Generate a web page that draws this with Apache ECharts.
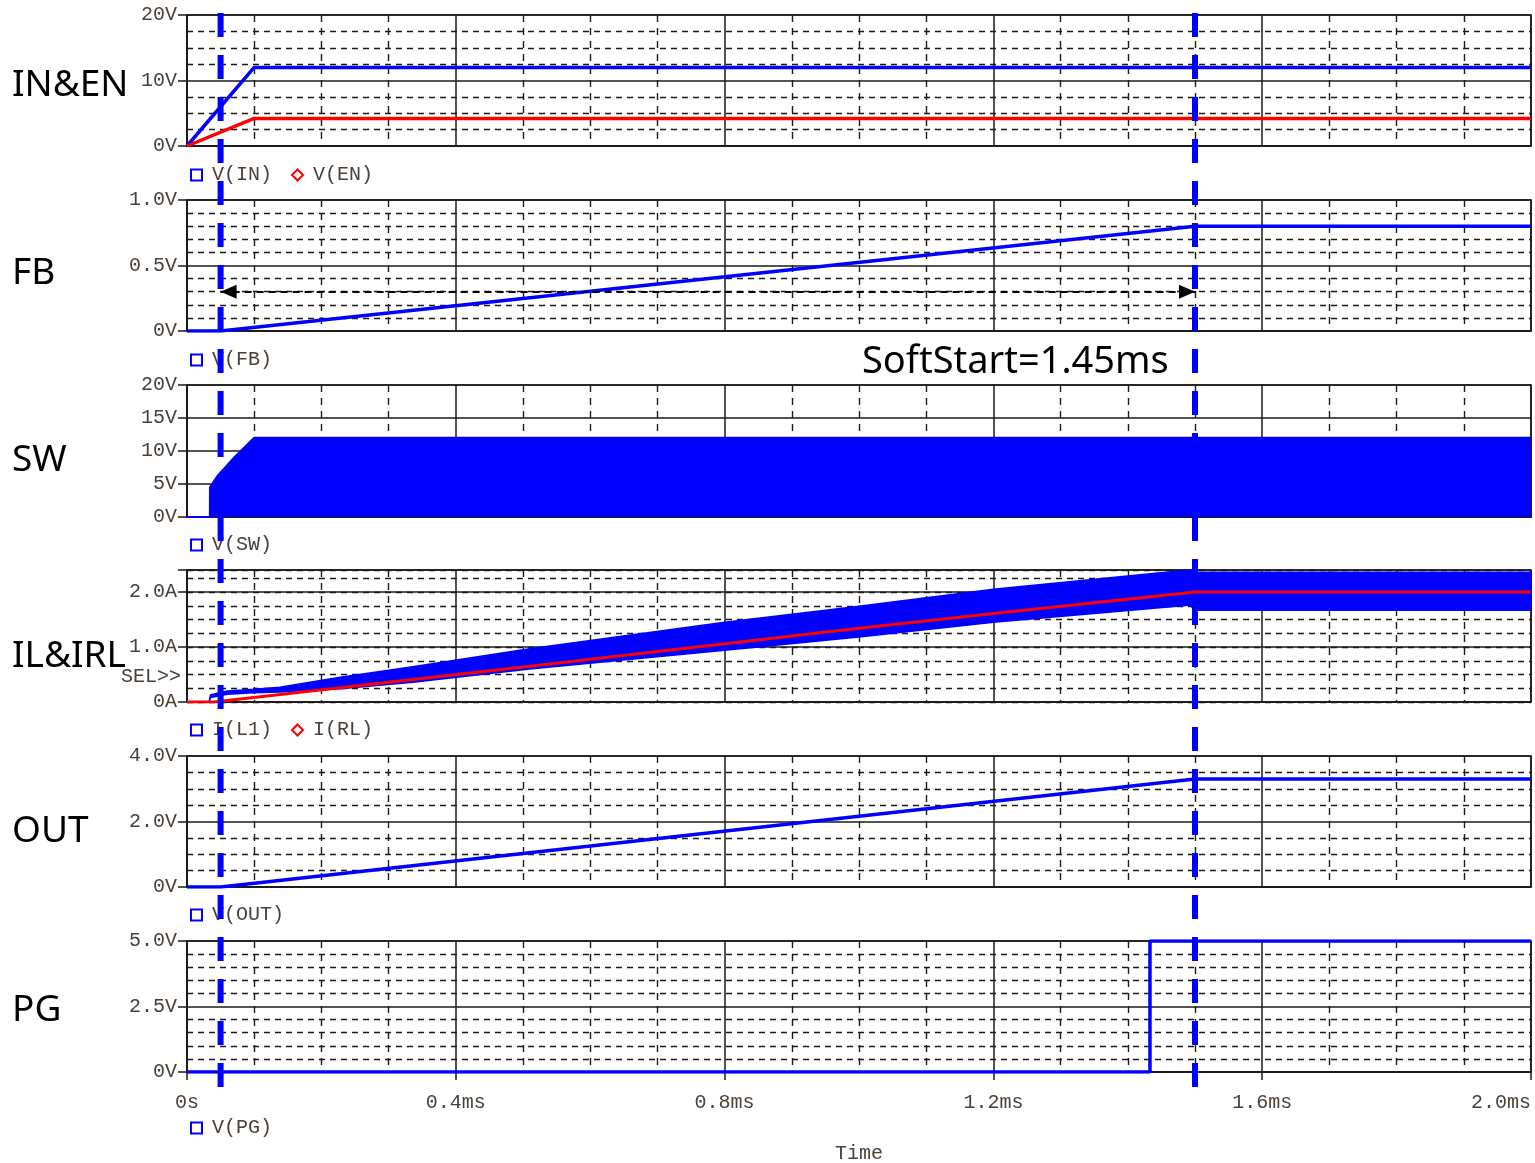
<!DOCTYPE html>
<html><head><meta charset="utf-8">
<script src="https://cdn.jsdelivr.net/npm/echarts@6/dist/echarts.min.js"></script>
<style>html,body{margin:0;padding:0;background:#fff}#c{width:1535px;height:1163px}</style>
</head><body><div id="c"></div>
<script>
// ---- data (time in ms) ----
const inTime = [0, 0.1, 2.0];
const vIn = [0, 12, 12];
const enTime = [0, 0.1, 2.0];
const vEn = [0, 4.2, 4.2];
const fbTime = [0, 0.05, 1.5, 2.0];
const vFb = [0, 0, 0.8, 0.8];
const swTime = [0, 0.034, 0.0342, 0.046, 0.071, 0.1, 2.0];
const vSwEnvelope = [0, 0, 4.5, 6.3, 9.1, 12, 12];
const ilTime = [0, 0.033, 0.035, 0.06, 0.1, 0.138, 0.228, 0.336, 0.51, 0.8, 1.0, 1.2, 1.49, 1.505, 2.0];
const iL1Upper = [0, 0, 0.13, 0.2, 0.23, 0.27, 0.45, 0.64, 0.97, 1.45, 1.74, 2.05, 2.45, 2.36, 2.36];
const iL1Lower = [0, 0, 0.08, 0.14, 0.17, 0.18, 0.24, 0.36, 0.6, 0.94, 1.18, 1.45, 1.76, 1.67, 1.67];
const rlTime = [0, 0.04, 0.51, 0.8, 1.0, 1.2, 1.5, 2.0];
const iRl = [0, 0, 0.65, 1.06, 1.34, 1.61, 2.0, 2.0];
const outTime = [0, 0.05, 1.5, 2.0];
const vOut = [0, 0, 3.3, 3.3];
const pgTime = [0, 1.433, 1.433, 2.0];
const vPg = [0, 0, 5, 5];
const markerTimes = [0.05, 1.5];
const softStartFrom = 0.05, softStartTo = 1.5, softStartLevel = 0.3;
const softStartText = 'SoftStart=1.45ms';
const panelNames = ['IN&EN', 'FB', 'SW', 'IL&IRL', 'OUT', 'PG'];
const xTickLabels = ['0s', '0.4ms', '0.8ms', '1.2ms', '1.6ms', '2.0ms'];
const inTicks = ['0V', '10V', '20V'];
const fbTicks = ['0V', '0.5V', '1.0V'];
const swTicks = ['0V', '5V', '10V', '15V', '20V'];
const ilTicks = ['0A', '1.0A', '2.0A'];
const outTicks = ['0V', '2.0V', '4.0V'];
const pgTicks = ['0V', '2.5V', '5.0V'];

// ---- layout / style ----
const BLUE = '#0000ff', RED = '#ff0000', INK = '#1a1a1a', TXT = '#4a4038';
const MONO = '"Liberation Mono", monospace';
const SANS = '"Noto Sans", sans-serif';
const panels = [
  {top: 15,  h: 131, max: 20,  interval: 10,  minor: 4, ticks: inTicks,  legendTop: 165,  legend: ['V(IN)', 'V(EN)'], labelY: 85},
  {top: 200, h: 131, max: 1,   interval: 0.5, minor: 5, ticks: fbTicks,  legendTop: 350,  legend: ['V(FB)'], labelY: 273},
  {top: 385, h: 132, max: 20,  interval: 5,   minor: 0, ticks: swTicks,  legendTop: 535,  legend: ['V(SW)'], labelY: 460},
  {top: 570, h: 132, max: 2.4, interval: 1,   minor: 0, ticks: ilTicks,  legendTop: 720,  legend: ['I(L1)', 'I(RL)'], labelY: 656},
  {top: 756, h: 131, max: 4,   interval: 2,   minor: 4, ticks: outTicks, legendTop: 905,  legend: ['V(OUT)'], labelY: 831},
  {top: 941, h: 131, max: 5,   interval: 2.5, minor: 5, ticks: pgTicks,  legendTop: 1118, legend: ['V(PG)'], labelY: 1010}
];
const legendColor = {'V(IN)': BLUE, 'V(EN)': RED, 'V(FB)': BLUE, 'V(SW)': BLUE, 'I(L1)': BLUE, 'I(RL)': RED, 'V(OUT)': BLUE, 'V(PG)': BLUE};
const zip = (t, v) => t.map((x, i) => [x, v[i]]);
const dashMinor = [6, 5];
const majorStyle = {color: INK, width: 1.5};
const minorStyle = {color: INK, width: 1.4, type: dashMinor};

const grids = [], xAxes = [], yAxes = [], legends = [];
panels.forEach((p, i) => {
  const last = i === panels.length - 1;
  grids.push({left: 187, right: 4, top: p.top, height: p.h, show: true, borderColor: INK, borderWidth: 1.6,
    backgroundColor: 'transparent', containLabel: false, outerBoundsMode: 'none'});
  xAxes.push({
    type: 'value', gridIndex: i, min: 0, max: 2.0, interval: 0.4,
    name: last ? 'Time' : '', nameLocation: 'middle', nameGap: 72,
    nameTextStyle: {fontFamily: MONO, fontSize: 20, color: TXT},
    axisLine: {show: true, onZero: false, lineStyle: {color: INK, width: 1.6}},
    axisTick: {show: last, length: 8, inside: false, lineStyle: {color: INK, width: 1.5}},
    axisLabel: {show: last, margin: 21, fontFamily: MONO, fontSize: 20, color: TXT,
      alignMaxLabel: 'right',
      formatter: v => xTickLabels[Math.round(v / 0.4)] || ''},
    splitLine: {show: true, lineStyle: majorStyle},
    minorTick: {show: false, splitNumber: 4},
    minorSplitLine: {show: true, lineStyle: {color: INK, width: 1.4, type: [7, 6]}}
  });
  yAxes.push({
    type: 'value', gridIndex: i, min: 0, max: p.max, interval: p.interval,
    axisLine: {show: true, onZero: false, lineStyle: {color: INK, width: 1.6}},
    axisTick: {show: true, length: 9, lineStyle: {color: INK, width: 1.5}},
    axisLabel: {show: true, margin: 10, fontFamily: MONO, fontSize: 20, color: TXT,
      formatter: v => {
        const k = Math.round(v / p.interval);
        return Math.abs(v - k * p.interval) < 1e-6 ? (p.ticks[k] || '') : '';
      }},
    splitLine: {show: true, lineStyle: majorStyle},
    minorTick: {show: false, splitNumber: p.minor || 2},
    minorSplitLine: {show: !!p.minor, lineStyle: minorStyle}
  });
  legends.push({
    left: 190, top: p.legendTop, orient: 'horizontal', padding: 0, itemGap: 19,
    itemWidth: 11, itemHeight: 11, selectedMode: false,
    textStyle: {fontFamily: MONO, fontSize: 20, color: TXT, padding: [0, 0, 0, 5]},
    data: p.legend.map(n => ({
      name: n, icon: legendColor[n] === RED ? 'diamond' : 'rect',
      itemStyle: {color: '#ffffff', borderColor: legendColor[n], borderWidth: 2}
    }))
  });
});
// helper axis for the 0.25A dashed grid of the current panel
yAxes.push({
  type: 'value', gridIndex: 3, min: 0, max: 2.4, interval: 0.25, position: 'right',
  axisLine: {show: false}, axisTick: {show: false}, axisLabel: {show: false},
  splitLine: {show: true, lineStyle: minorStyle}
});
// overlay grid for the full-height markers
grids.push({left: 187, right: 4, top: 13, bottom: 76, show: false, containLabel: false, outerBoundsMode: 'none'});
xAxes.push({type: 'value', gridIndex: 6, min: 0, max: 2.0, show: false});
yAxes.push({type: 'value', gridIndex: 6, min: 0, max: 1, show: false});

const line = (name, xi, yi, data, color, extra) => Object.assign({
  name, type: 'line', xAxisIndex: xi, yAxisIndex: yi, data, symbol: 'none', animation: false,
  lineStyle: {color, width: 3.5}, itemStyle: {color}, z: 3
}, extra || {});

const arrowEnd = {symbol: 'triangle', symbolSize: [14, 16], symbolOffset: [0, 8]};
const series = [
  line('V(IN)', 0, 0, zip(inTime, vIn), BLUE),
  line('V(EN)', 0, 0, zip(enTime, vEn), RED),
  line('V(FB)', 1, 1, zip(fbTime, vFb), BLUE, {
    markLine: {
      silent: true, animation: false, symbol: ['triangle', 'triangle'], symbolSize: 15,
      lineStyle: {color: '#000', width: 2, type: [7, 5]}, itemStyle: {color: '#000'}, label: {show: false},
      data: [[Object.assign({coord: [softStartFrom, softStartLevel]}, arrowEnd),
              Object.assign({coord: [softStartTo, softStartLevel]}, arrowEnd)]]
    }
  }),
  line('V(SW)', 2, 2, zip(swTime, vSwEnvelope), BLUE, {lineStyle: {color: BLUE, width: 2}, areaStyle: {color: BLUE, opacity: 1}}),
  {
    name: 'I(L1)', type: 'custom', xAxisIndex: 3, yAxisIndex: 3, data: [[0, 0]], z: 3, animation: false,
    itemStyle: {color: BLUE}, silent: true,
    renderItem: (params, api) => {
      const up = ilTime.map((t, i) => api.coord([t, iL1Upper[i]]));
      const lo = ilTime.map((t, i) => api.coord([t, iL1Lower[i]])).reverse();
      const cs = params.coordSys;
      const pts = echarts.graphic.clipPointsByRect(up.concat(lo), {x: cs.x, y: cs.y, width: cs.width, height: cs.height});
      return {type: 'polygon', shape: {points: pts}, style: {fill: BLUE, stroke: BLUE, lineWidth: 1.5}};
    }
  },
  line('I(RL)', 3, 3, zip(rlTime, iRl), RED, {z: 4, lineStyle: {color: RED, width: 3}}),
  line('V(OUT)', 4, 4, zip(outTime, vOut), BLUE),
  line('V(PG)', 5, 5, zip(pgTime, vPg), BLUE)
];
markerTimes.forEach((t, k) => {
  series.push(line('marker' + k, 6, 7, [[t, 1], [t, 0]], BLUE, {lineStyle: {color: BLUE, width: 6, type: [24, 18]}, z: 10, silent: true}));
});

const graphic = panelNames.map((n, i) => ({
  type: 'text', x: 12, y: panels[i].labelY, z: 20,
  style: {text: n, font: '37px ' + SANS, fill: '#000', verticalAlign: 'middle', textVerticalAlign: 'middle', align: 'left'}
}));
graphic.push({type: 'text', x: 862, y: 362, z: 20,
  style: {text: softStartText, font: '38px ' + SANS, fill: '#000', verticalAlign: 'middle', textVerticalAlign: 'middle', align: 'left'}});
graphic.push({type: 'text', x: 181, y: 677, z: 20,
  style: {text: 'SEL>>', font: '20px ' + MONO, fill: TXT, verticalAlign: 'middle', textVerticalAlign: 'middle', align: 'right', textAlign: 'right'}});

const chart = echarts.init(document.getElementById('c'), null, {renderer: 'canvas'});
chart.setOption({
  backgroundColor: '#ffffff', animation: false,
  grid: grids, xAxis: xAxes, yAxis: yAxes, legend: legends, series, graphic
});
</script></body></html>
